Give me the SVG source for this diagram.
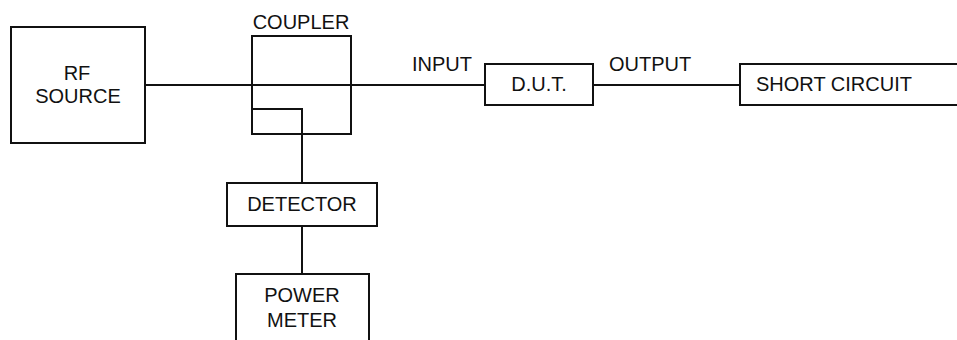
<svg xmlns="http://www.w3.org/2000/svg" width="957" height="340" viewBox="0 0 957 340">
<style>
.box{fill:none;stroke:#111;stroke-width:2}
.ln{fill:none;stroke:#111;stroke-width:2}
text{font-family:"Liberation Sans",Arial,sans-serif;font-size:20px;fill:#111}
.c{text-anchor:middle}
</style>
<rect width="957" height="340" fill="#fff"/>
<g id="connectors">
<path class="ln" d="M145 85 H485"/>
<path class="ln" d="M593 85 H740"/>
<path class="ln" d="M252 109 H302 V183"/>
<path class="ln" d="M302 226 V274"/>
<text x="412" y="71">INPUT</text>
<text x="609" y="71">OUTPUT</text>
</g>
<g id="rf-source">
<rect class="box" x="11" y="27" width="134" height="116"/>
<text class="c" x="77" y="80">RF</text>
<text class="c" x="78" y="103">SOURCE</text>
</g>
<g id="coupler">
<rect class="box" x="252" y="36" width="99" height="98"/>
<text class="c" x="301" y="29">COUPLER</text>
</g>
<g id="dut">
<rect class="box" x="485" y="64" width="108" height="41"/>
<text class="c" x="539" y="91">D.U.T.</text>
</g>
<g id="short-circuit">
<rect class="box" x="740" y="64" width="222" height="41"/>
<text class="c" x="834" y="91">SHORT CIRCUIT</text>
</g>
<g id="detector">
<rect class="box" x="227" y="183" width="150" height="43"/>
<text class="c" x="302" y="211">DETECTOR</text>
</g>
<g id="power-meter">
<rect class="box" x="236" y="274" width="133" height="80"/>
<text class="c" x="302" y="302">POWER</text>
<text class="c" x="302" y="327">METER</text>
</g>
</svg>
